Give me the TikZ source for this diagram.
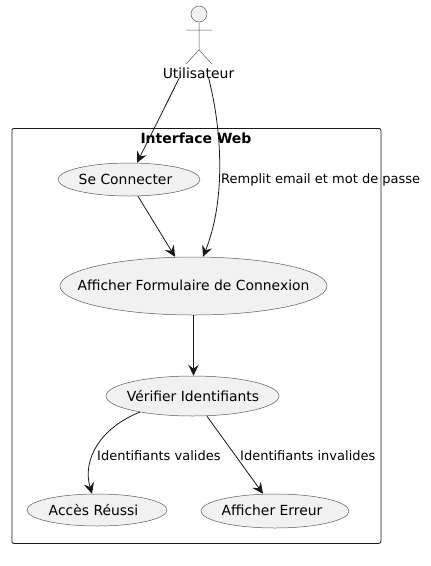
\documentclass[tikz,border=0pt]{standalone}
\usepackage{fontspec}
\setmainfont{DejaVu Sans}
\usetikzlibrary{arrows.meta,shapes.geometric}
\definecolor{ucfill}{HTML}{F1F1F1}
\definecolor{ucline}{HTML}{5A5A5A}
\definecolor{ink}{HTML}{181818}
\newcommand{\uctext}[2]{\raisebox{1pt}{\makebox[0pt]{\hspace*{#1}#2}}}
\tikzset{
 uc/.style={ellipse,draw=ucline,fill=ucfill,line width=.5pt,inner sep=0pt,text=black,font=\fontsize{13.9}{16}\selectfont},
 arr/.style={-{Stealth[length=11pt,width=10.5pt,inset=4pt]},line width=.8pt,draw=ink},
 lab/.style={font=\fontsize{13}{15}\selectfont,inner sep=0pt,anchor=west,text=black}
}
\begin{document}
\begin{tikzpicture}[x=1pt,y=-1pt]
\useasboundingbox (0,0) rectangle (431,566);
\node[draw=ink,rounded corners=2pt,line width=.8pt,minimum width=369pt,minimum height=415pt,anchor=north west,inner sep=0pt] (sys) at (11.5,128) {};
\node[font=\fontsize{14}{16}\bfseries\selectfont,inner sep=0pt,text=black] (systitle) at (196,138) {Interface Web};
\node[circle,draw=ucline,fill=ucfill,line width=.5pt,minimum size=16pt,inner sep=0pt] (head) at (199,14) {};
\coordinate (hip) at (199,50);
\coordinate (armL) at (186,30);
\coordinate (armR) at (212,30);
\coordinate (footL) at (186,64);
\coordinate (footR) at (212,64);
\draw[line width=.5pt,draw=ucline] (head.south)--(hip) (armL)--(armR) (hip)--(footL) (hip)--(footR);
\node[font=\fontsize{13.9}{16}\selectfont,inner sep=0pt,text=black] (user) at (198.5,73) {Utilisateur};
\node[uc,minimum width=142pt,minimum height=33pt] (a) at (129,179.5) {\uctext{-7pt}{Se Connecter}};
\node[uc,minimum width=267pt,minimum height=58pt] (b) at (193.5,286) {\uctext{0pt}{Afficher Formulaire de Connexion}};
\node[uc,minimum width=173pt,minimum height=40pt] (c) at (192.5,396) {\uctext{1pt}{Vérifier Identifiants}};
\node[uc,minimum width=140pt,minimum height=32pt] (d) at (97,510) {\uctext{-7pt}{Accès Réussi}};
\node[uc,minimum width=148pt,minimum height=34pt] (e) at (275,511) {\uctext{-6pt}{Afficher Erreur}};
\draw[arr] ([xshift=-19pt,yshift=1pt]user.south) -- ([xshift=8pt]a.north);
\draw[arr] ([xshift=10pt,yshift=1pt]user.south) .. controls (222,130) and (226,200) .. ([xshift=9.5pt]b.north);
\draw[arr] ([xshift=9pt]a.south) -- ([xshift=-18.5pt]b.north);
\draw[arr] (b.south) -- (b.south |- c.north);
\draw[arr] (c.-163) .. controls (100,428) and (82,460) .. (d.north -| 92,0);
\draw[arr] ([xshift=14.5pt]c.south) -- ([xshift=-12pt]e.north);
\node[lab] (l1) at (221,180) {Remplit email et mot de passe};
\node[lab] (l2) at (97,456) {Identifiants valides};
\node[lab] (l3) at (240,456) {Identifiants invalides};
\end{tikzpicture}
\end{document}
